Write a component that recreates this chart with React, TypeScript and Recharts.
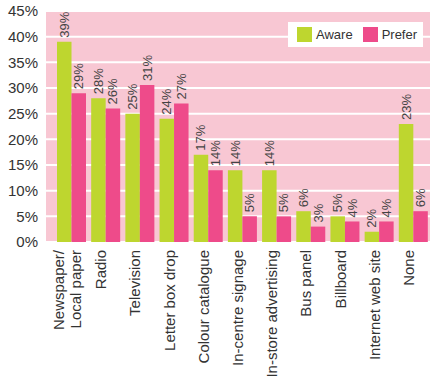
import React from 'react';
import { BarChart, Bar, XAxis, YAxis, CartesianGrid, LabelList } from 'recharts';

const categories = [
  'Newspaper/|Local paper',
  'Radio',
  'Television',
  'Letter box drop',
  'Colour catalogue',
  'In-centre signage',
  'In-store advertising',
  'Bus panel',
  'Billboard',
  'Internet web site',
  'None',
];
const aware = [39, 28, 25, 24, 17, 14, 14, 6, 5, 2, 23];
const prefer = [29, 26, 30.6, 27, 14, 5, 5, 3, 4, 4, 6];
const yTicks = [0, 5, 10, 15, 20, 25, 30, 35, 40, 45];
const seriesNames = ['Aware', 'Prefer'];

const GREEN = '#bed62f';
const PINK = '#ee4b8a';
const BG = '#f8c7d3';
const FONT = '"Liberation Sans", Arial, sans-serif';

const data = categories.map((name, i) => ({ name, aware: aware[i], prefer: prefer[i] }));

function XTick(props: any) {
  const { x, y, payload } = props;
  const lines: string[] = String(payload.value).split('|');
  const offsets = lines.length === 1 ? [1] : [-7.5, 9.5];
  return (
    <g transform={`translate(${x},${y})`}>
      {lines.map((line, i) => (
        <text
          key={i}
          transform="rotate(-90)"
          x={-8}
          y={offsets[i]}
          textAnchor="end"
          fill="#333"
          fontSize={15}
          fontFamily={FONT}
        >
          {line}
        </text>
      ))}
    </g>
  );
}

function BarLabel(props: any) {
  const { x, y, width, value } = props;
  const cx = x + width / 2;
  const ty = y - 4;
  return (
    <text
      transform={`translate(${cx},${ty}) rotate(-90)`}
      textAnchor="start"
      dominantBaseline="central"
      fill="#444"
      fontSize={13}
      fontFamily={FONT}
    >
      {Math.round(value)}%
    </text>
  );
}

// legend drawn as an overlay so it doesn't push the plot area down
function LegendBox() {
  const colors = [GREEN, PINK];
  return (
    <div
      style={{
        position: 'absolute',
        left: 288,
        top: 22,
        background: '#fff',
        width: 135,
        height: 25,
        display: 'flex',
        alignItems: 'center',
        paddingLeft: 9,
        boxSizing: 'border-box',
        fontFamily: FONT,
        fontSize: 13,
        color: '#333',
      }}
    >
      {seriesNames.map((label, i) => (
        <div key={label} style={{ display: 'flex', alignItems: 'center', marginRight: 10 }}>
          <span style={{ width: 15, height: 15, background: colors[i], display: 'inline-block', marginRight: 4 }} />
          <span>{label}</span>
        </div>
      ))}
    </div>
  );
}

export default function App() {
  return (
    <div style={{ position: 'absolute', left: 0, top: 0, width: 435, height: 383, background: '#fff' }}>
      <BarChart
        width={435}
        height={383}
        data={data}
        margin={{ top: 11, right: 5, bottom: 0, left: 0 }}
        barGap={0}
        barSize={14.5}
      >
        <CartesianGrid vertical={false} fill={BG} stroke="#fff" strokeWidth={2} fillOpacity={1} />
        <XAxis
          dataKey="name"
          interval={0}
          height={141}
          axisLine={false}
          tickLine={false}
          tickSize={0}
          tickMargin={0}
          padding={{ left: 8, right: 0 }}
          tick={<XTick />}
        />
        <YAxis
          width={46}
          domain={[0, 45]}
          ticks={yTicks}
          interval={0}
          axisLine={false}
          tickLine={false}
          tickSize={0}
          tickMargin={8}
          tickFormatter={(v: number) => `${v}%`}
          tick={{ fill: '#333', fontSize: 15, fontFamily: FONT }}
        />
        <Bar dataKey="aware" name={seriesNames[0]} fill={GREEN} isAnimationActive={false}>
          <LabelList dataKey="aware" content={<BarLabel />} />
        </Bar>
        <Bar dataKey="prefer" name={seriesNames[1]} fill={PINK} isAnimationActive={false}>
          <LabelList dataKey="prefer" content={<BarLabel />} />
        </Bar>
      </BarChart>
      <LegendBox />
    </div>
  );
}
